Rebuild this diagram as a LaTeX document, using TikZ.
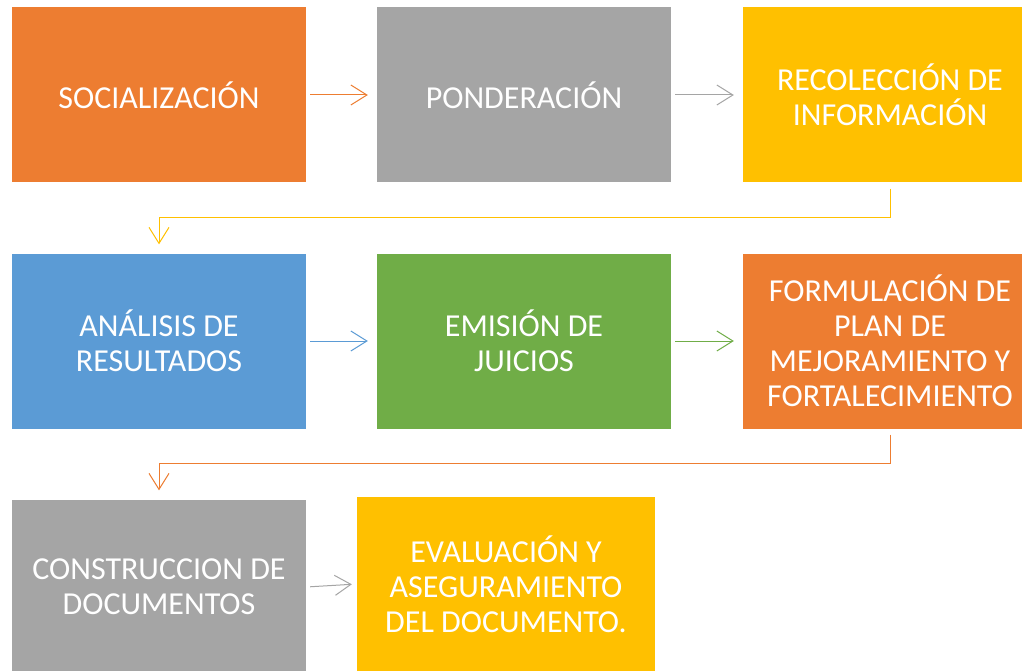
\documentclass[tikz,border=0pt]{standalone}
\usepackage{fontspec}
\setmainfont{Carlito}
\usetikzlibrary{arrows.meta}
\definecolor{procolor0000}{RGB}{237,125,49}
\definecolor{procolor0001}{RGB}{165,165,165}
\definecolor{procolor0002}{RGB}{255,192,0}
\definecolor{procolor0003}{RGB}{91,155,213}
\definecolor{procolor0004}{RGB}{112,173,71}
\begin{document}
\begin{tikzpicture}[yscale=-1
,pbox/.style={minimum width=294pt,minimum height=175pt,inner sep=0pt,align=center,text=white,font=\fontsize{32}{35}\selectfont}
,parrow/.style={line width=1pt,-{Straight Barb[length=16pt,width=20pt,line width=1pt]},shorten <=4pt,shorten >=9pt}
]
\clip (0pt,0pt) rectangle (1022pt,671pt);
\fill[white] (0pt,0pt) rectangle (1022pt,671pt);
\node (soc) at (159pt,95pt)[pbox,fill=procolor0000]{SOCIALIZACIÓN};
\node (pon) at (524pt,95pt)[pbox,fill=procolor0001]{PONDERACIÓN};
\node (rec) at (890pt,95pt)[pbox,fill=procolor0002]{RECOLECCIÓN DE\\INFORMACIÓN};
\node (ana) at (159pt,341pt)[pbox,fill=procolor0003]{ANÁLISIS DE\\RESULTADOS};
\node (emi) at (524pt,341pt)[pbox,fill=procolor0004]{EMISIÓN DE\\JUICIOS};
\node (for) at (890pt,341pt)[pbox,fill=procolor0000]{FORMULACIÓN DE\\PLAN DE\\MEJORAMIENTO Y\\FORTALECIMIENTO};
\node (con) at (159pt,587pt)[pbox,fill=procolor0001]{CONSTRUCCION DE\\DOCUMENTOS};
\node (eva) at (506pt,584pt)[pbox,minimum width=298pt,fill=procolor0002]{EVALUACIÓN Y\\ASEGURAMIENTO\\DEL DOCUMENTO.};
\draw[parrow,color=procolor0000] (soc.east) -- (pon.west);
\draw[parrow,color=procolor0001] (pon.east) -- (rec.west);
\draw[parrow,color=procolor0002,shorten <=6pt] (rec.south) -- ++(0pt,35pt) -| (ana.north);
\draw[parrow,color=procolor0003] (ana.east) -- (emi.west);
\draw[parrow,color=procolor0004] (emi.east) -- (for.west);
\draw[parrow,color=procolor0000,shorten <=6pt] (for.south) -- ++(0pt,35pt) -| (con.north);
\draw[parrow,color=procolor0001,shorten >=5pt] (con.east) -- (eva.west);
\end{tikzpicture}
\end{document}
